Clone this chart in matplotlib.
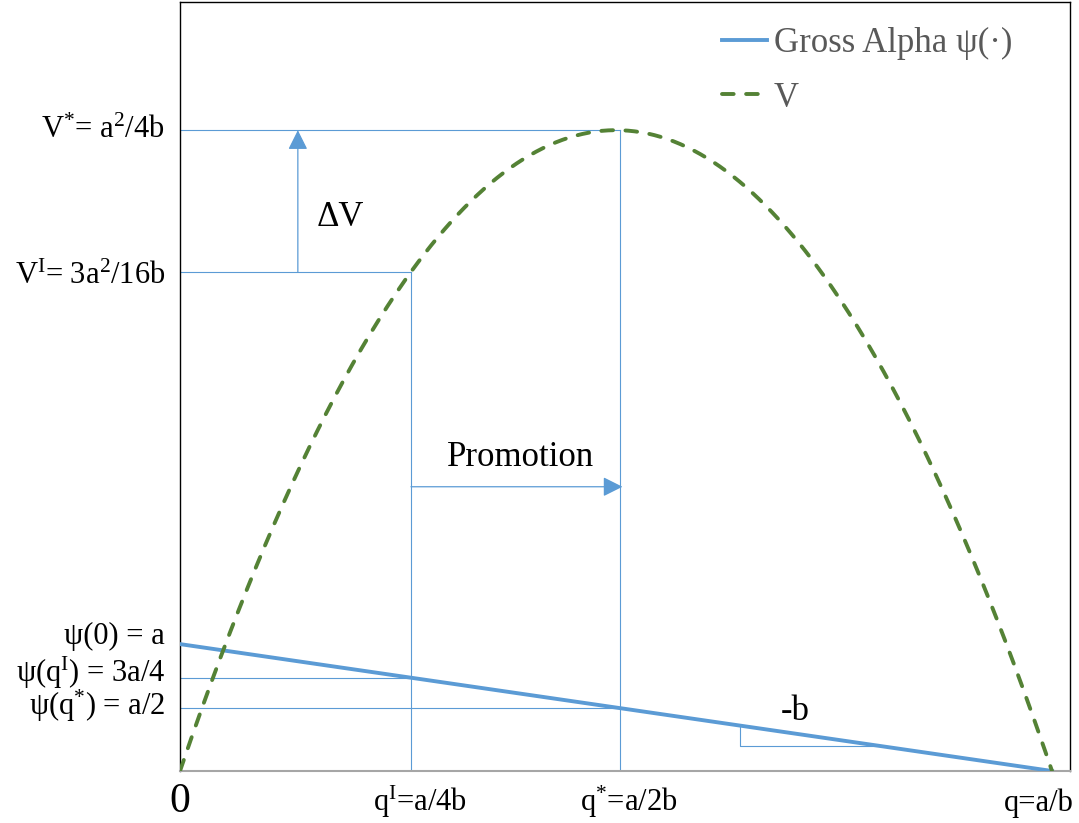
import numpy as np
import matplotlib.pyplot as plt
from matplotlib.transforms import blended_transform_factory

plt.rcParams['font.family'] = ['Liberation Serif', 'DejaVu Serif']
plt.rcParams['mathtext.fontset'] = 'custom'
plt.rcParams['mathtext.rm'] = 'Liberation Serif'
plt.rcParams['mathtext.it'] = 'Liberation Serif:italic'

## model parameters (psi(q) = a - b q, V = q psi(q))
a = 1.0
b = 1 / 20.2
q_I = 5.35          # where the vertical guide for q^I sits
q_star = 10.2       # where the vertical guide for q* sits
q_arrow_dv = 2.73   # x of the Delta V arrow
y_arrow_promo = 2.24
q_slope = 12.97     # corner of the little slope triangle
y_slope = 0.197

y_labels = [r'$\mathrm{V^{*}}$= a$^{2}$/4b', r'V$^{\mathrm{I}}$= 3a$^{2}$/16b',
            'ψ(0) = a', r'ψ(q$^{\mathrm{I}}$) = 3a/4', r'ψ(q$^{*}$) = a/2']
y_label_pos = [5.05, 3.90, 1.063, 0.772, 0.512]
x_labels = ['0', r'q$^{\mathrm{I}}$=a/4b', r'q$^{*}$=a/2b', 'q=a/b']

BLUE = '#5b9bd5'
GREEN = '#548235'

def psi(q):
    return a - b * q

def value(q):
    return q * psi(q)

q_max = a / b
q = np.linspace(0, q_max, 400)

fig = plt.figure(figsize=(10.79, 8.23), dpi=100)
ax = fig.add_axes([180 / 1079, 52 / 823, 890 / 1079, 769 / 823])

ax.plot(q, psi(q), color=BLUE, lw=2.8, label='Gross Alpha ψ(·)', zorder=3)
ax.plot(q, value(q), color=GREEN, lw=2.8, ls=(0, (3.0, 3.2)),
        dash_capstyle='round', label='V', zorder=3)

# guide lines
thin = dict(color=BLUE, lw=0.8)
ax.plot([0, q_star], [value(q_star)] * 2, **thin)
ax.plot([0, q_I], [value(q_I)] * 2, **thin)
ax.plot([0, q_I], [psi(q_I)] * 2, **thin)
ax.plot([0, q_star], [psi(q_star)] * 2, **thin)
ax.plot([q_I, q_I], [0, value(q_I)], **thin)
ax.plot([q_star, q_star], [0, value(q_star)], **thin)

# slope triangle
q_end = (a - y_slope) / b
ax.plot([q_slope, q_slope, q_end], [psi(q_slope), y_slope, y_slope], **thin)
ax.text(q_slope + 1.28, 0.465, '-b', fontsize=25, ha='center', va='center')

# arrows
arw = dict(arrowstyle='-|>,head_length=0.4,head_width=0.2', color=BLUE,
           lw=0.9, mutation_scale=30, shrinkA=0, shrinkB=0)
ax.annotate('', xy=(q_arrow_dv, value(q_star)), xytext=(q_arrow_dv, value(q_I)),
            arrowprops=arw)
ax.annotate('', xy=(q_star + 0.05, y_arrow_promo), xytext=(q_I, y_arrow_promo),
            arrowprops=arw)
ax.text(3.71, 4.36, 'ΔV', fontsize=25, ha='center', va='center')
ax.text(7.90, 2.47, 'Promotion', fontsize=25, ha='center', va='center')

ax.set_xlim(0, q_max * 890 / 872)
ax.set_ylim(0, 6.06)
ax.set_xticks([])
ax.set_yticks([])

# axis labels placed as texts so they can sit where the reference has them
ty = blended_transform_factory(ax.transAxes, ax.transData)
for lab, yv in zip(y_labels, y_label_pos):
    ax.text(-15 / 890, yv, lab, transform=ty, ha='right', va='center',
            fontsize=22)

tx = blended_transform_factory(ax.transData, fig.transFigure)
x_label_pos = [0, q_I, q_star, q_max]
x_label_shift = [0, 0.2, 0.2, 0.5]
for i, (lab, xv) in enumerate(zip(x_labels, x_label_pos)):
    xs = xv + x_label_shift[i]
    if i == 0:
        ax.text(xs, 1 - 802 / 823, lab, transform=tx, ha='center', va='center',
                fontsize=30)
    elif i == len(x_labels) - 1:
        ax.text(xs, 1 - 803 / 823, lab, transform=tx, ha='right',
                va='center', fontsize=22)
    else:
        ax.text(xs, 1 - 802 / 823, lab, transform=tx, ha='center',
                va='center', fontsize=22)

for s in ['left', 'top', 'right']:
    ax.spines[s].set_color('black')
    ax.spines[s].set_linewidth(1.0)
ax.spines['bottom'].set_color('#a6a6a6')
ax.spines['bottom'].set_linewidth(1.5)

leg = ax.legend(loc='upper left', bbox_to_anchor=(722 / 1079, 1 - 27 / 823),
                bbox_transform=fig.transFigure, frameon=False, fontsize=25,
                handlelength=1.3, handletextpad=0.2, borderpad=0,
                borderaxespad=0, labelspacing=0.62)
for t in leg.get_texts():
    t.set_color('#595959')

fig.savefig('out.png', dpi=100)
